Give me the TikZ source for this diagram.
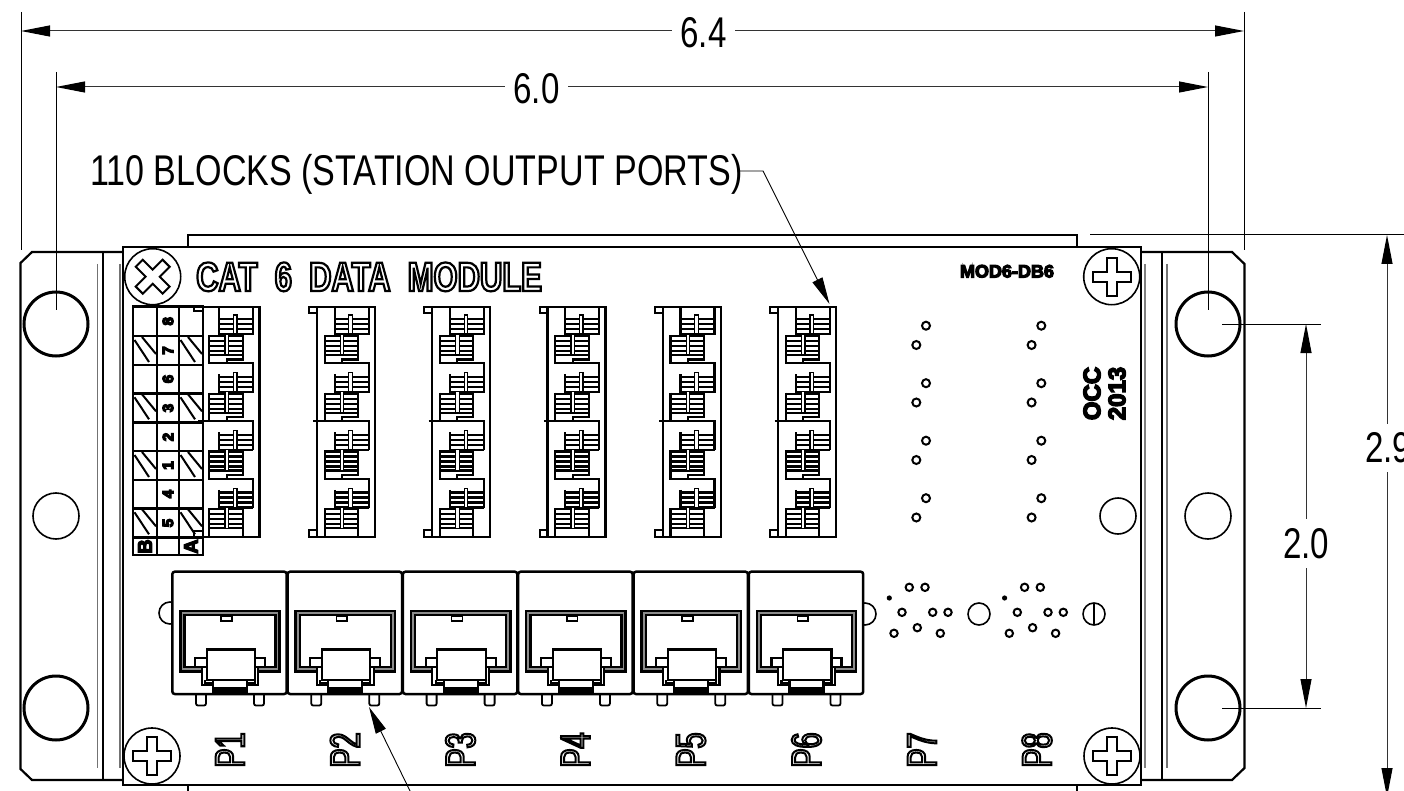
\documentclass[tikz,border=0pt]{standalone}
\usepackage{fontspec}
\usetikzlibrary{arrows.meta,calc}
\setmainfont{Liberation Sans}
\newfontfamily\dimfont[FakeStretch=0.77]{Liberation Sans}
\newfontfamily\longfont[FakeStretch=0.792]{Liberation Sans}
\newfontfamily\catfont[FakeStretch=0.755]{Liberation Sans Bold}
\newfontfamily\plabfont[FakeStretch=0.68]{Liberation Sans}
\newfontfamily\boldfont{Liberation Sans Bold}
\newcommand{\outltext}[2]{\special{pdf:code 1 Tr #1 w}#2\special{pdf:code 0 Tr 0 w}}
\newcommand{\heavytext}[2]{\special{pdf:code 2 Tr #1 w}#2\special{pdf:code 0 Tr 0 w}}
\tikzset{
  heavy/.style={line width=2.2pt,black},
  mid/.style={line width=2.2pt,black},
  thin line/.style={line width=1pt,black},
  greyline/.style={line width=1.2pt,black!55},
  dimline/.style={line width=1pt,black!80},
  tipstart/.style={dimline,{Triangle[length=29pt,width=11pt,black]}-},
  tipend/.style={dimline,-{Triangle[length=29pt,width=11pt,black]}},
  leader/.style={line width=.9pt,black},
  leadarrow/.style={leader,-{Triangle[length=27pt,width=11pt,black]}},
  dimlabel/.style={inner sep=0pt,font=\dimfont\fontsize{43}{43}\selectfont},
  longlabel/.style={inner sep=0pt,font=\longfont\fontsize{43}{43}\selectfont},
  smallhole/.style={line width=2pt,black},
  screwc/.style={line width=1.6pt,black,fill=white},
  strip/.style={line width=2.9pt,black},
}
\newcommand{\screwcross}[3]{% x y angle
  \draw[screwc] (#1,#2) circle[radius=28];
  \draw[line width=2pt,rotate around={#3:(#1,#2)}]
    ($(#1,#2)+(-5,-19)$) -- ($(#1,#2)+(5,-19)$) -- ($(#1,#2)+(5,-5)$) -- ($(#1,#2)+(19,-5)$)
    -- ($(#1,#2)+(19,5)$) -- ($(#1,#2)+(5,5)$) -- ($(#1,#2)+(5,19)$) -- ($(#1,#2)+(-5,19)$)
    -- ($(#1,#2)+(-5,5)$) -- ($(#1,#2)+(-19,5)$) -- ($(#1,#2)+(-19,-5)$) -- ($(#1,#2)+(-5,-5)$) -- cycle;
}
\begin{document}
\begin{tikzpicture}[x=1pt,y=-1pt,line join=miter]
\useasboundingbox (0,0) rectangle (1404,791);
\fill[white] (0,0) rectangle (1404,791);

% ---- brackets
\draw[heavy] (123,252) -- (32,252) -- (20.5,263) -- (20.5,769) -- (32,780) -- (123,780);
\draw[heavy] (1141,252) -- (1232,252) -- (1244.5,264) -- (1244.5,768) -- (1232,780) -- (1141,780);
\draw[heavy] (103,252) -- (103,780);
\draw[heavy] (1162,252) -- (1162,780);
\draw[greyline] (97.5,264) -- (97.5,768);
\draw[greyline] (120,264) -- (120,768);
\draw[greyline] (1167,264) -- (1167,768);
\draw[line width=2.4pt,black!50] (1145,264) -- (1145,768);
% bracket holes
\foreach \hx in {56,1208}{
  \foreach \hy in {324,708}{
    \draw[line width=3pt] (\hx,\hy) ellipse[x radius=32,y radius=32];
  }
  \draw[line width=1.6pt] (\hx,516) circle[radius=23];
}

% ---- rails and board
\draw[heavy] (188,247) -- (188,235) -- (1077,235) -- (1077,247);
\draw[heavy] (188,785) -- (188,795);
\draw[heavy] (1077,785) -- (1077,795);
\draw[heavy,fill=white] (123,247) rectangle (1141,785);

% board circles
\draw[line width=1.6pt] (170,613) circle[radius=11];
\draw[line width=1.6pt] (865,614) circle[radius=11];
\draw[line width=1.6pt] (979,614) circle[radius=11];
\draw[line width=1.6pt] (1094,614) circle[radius=11];
\draw[line width=1.6pt] (1094,603) -- (1094,625);
\draw[line width=1.6pt] (1118,516) circle[radius=18];

% ---- screws
\screwcross{152.7}{276.7}{45}
\screwcross{1111.7}{276.7}{0}
\screwcross{152}{756}{0}
\screwcross{1112}{756}{0}

% ---- terminal strip
\draw[strip] (133,306.7) rectangle (203,555);
\draw[strip] (157,306.7) -- (157,555);
\draw[strip] (179,306.7) -- (179,555);
\foreach \ry in {336,365,393.3,422.7,451,480,508.3,537.3}{
  \draw[strip] (133,\ry) -- (203,\ry);
}
\foreach \ry in {336,393.3,451,508.3}{
  \foreach \cx in {134,180}{
    \draw[line width=2pt] (\cx+0.5,\ry+4) -- (\cx+15,\ry+26);
    \draw[line width=2pt] (\cx+8,\ry+1) -- (\cx+22,\ry+18);
  }
}
\draw[line width=1.6pt] (194,307) -- (194,311) -- (202,311);
\draw[line width=1.6pt] (194,536) -- (194,531) -- (202,531);
\foreach \lab/\ly/\nm in {8/321.3/a,7/350.5/b,6/379/c,3/408/d,2/437/e,1/465.5/f,4/494/g,5/523/h}{
  \node[inner sep=0pt,rotate=90,font=\boldfont\fontsize{15}{15}\selectfont] (strip\nm) at (168,\ly) {\heavytext{1.3}{\lab}};
}
\node[inner sep=0pt,rotate=90,font=\boldfont\fontsize{20}{20}\selectfont] (stripB) at (145,546.5) {\heavytext{1.2}{B}};
\node[inner sep=0pt,rotate=90,font=\boldfont\fontsize{20}{20}\selectfont] (stripA) at (191,546.5) {\heavytext{1.2}{A}};

% ---- 110 blocks
\foreach \k in {0,...,5}{
\begin{scope}[shift={(\k*115.3,0)}]
  \draw[mid] (201.5,306.7) -- (259.5,306.7) -- (259.5,536.7) -- (201.5,536.7);
  \ifnum\k>0
    \draw[mid] (201.5,306.7) -- (201.5,536.7);
    \draw[mid] (201.5,306.7) -- (193.7,306.7) -- (193.7,313) -- (201.5,313);
    \draw[mid] (201.5,536.7) -- (193.7,536.7) -- (193.7,530) -- (201.5,530);
  \fi
  \draw[mid] (198,420.7) -- (209.3,420.7);
  \draw[mid] (219.3,306.7) -- (219.3,316.7);
  \draw[mid] (253.3,306.7) -- (253.3,316.7);
  \foreach \j in {0,...,3}{
    \begin{scope}[shift={(0,\j*57.7)}]
      % upper comb
      \draw[mid] (219.3,316.7) -- (219.3,335);
      \draw[mid] (253.3,316.7) -- (253.3,335);
      \foreach \hy in {319.3,324.3,329.3,334.3}{\draw[mid] (219.3,\hy) -- (253.3,\hy);}
      \draw[line width=1.2pt,fill=white] (233.5,315) rectangle (237,334);
      % lower comb
      \draw[mid] (209.3,335) -- (209.3,355) -- (242.7,355) -- (242.7,335);
      \foreach \hy in {336,341,346,351}{\draw[mid] (209.3,\hy) -- (242.7,\hy);}
      \draw[line width=1.2pt,fill=white] (225,334) rectangle (228.5,355);
    \end{scope}
    \ifnum\j<3
      \begin{scope}[shift={(0,\j*57.7)}]
        \draw[mid] (209.3,355) -- (209.3,363.3) -- (226.7,363.3) -- (226.7,359.5) -- (242.7,359.5) -- (242.7,355);
        \draw[mid] (226.7,363.3) -- (253.3,363.3) -- (253.3,374.4);
      \end{scope}
    \fi
  }
  \draw[mid] (209.3,528) -- (209.3,536.7);
  \draw[mid] (242.7,528) -- (242.7,536.7);
\end{scope}
}

% ---- ports
\foreach \k in {0,...,5}{
\begin{scope}[shift={(\k*115.3,0)}]
  \draw[line width=2.5pt,fill=white,rounded corners=2.5pt] (172.3,571.7) rectangle (286.7,694);
  \fill[black!45,even odd rule] (180.3,611) rectangle (279.7,671.7) (184.5,615.3) rectangle (275.5,667.2);
  \draw[line width=2.5pt] (180.3,611) rectangle (279.7,671.7);
  \draw[line width=2.2pt] (184.5,615.3) rectangle (275.5,667.2);
  \draw[line width=1.6pt] (221,616) rectangle (231.7,621);
  % latch
  \draw[mid,fill=white] (201.7,668) -- (201.7,685) -- (258.3,685) -- (258.3,668);
  \draw[mid,fill=white] (195,658) rectangle (206.7,667);
  \draw[mid,fill=white] (255,658) rectangle (265,667);
  \draw[mid,fill=white] (206.7,649.5) rectangle (255,680);
  \draw[mid] (205,680) -- (205,683) -- (255,683) -- (255,680);
  \draw[mid,fill=white] (213,680) rectangle (247,691.5);
  \fill (212,687) rectangle (248,693);
  % pins
  \draw[line width=1.8pt,rounded corners=2pt] (196,694) -- (196,705.5) -- (206,705.5) -- (206,694);
  \draw[line width=1.8pt,rounded corners=2pt] (254,694) -- (254,705.5) -- (264,705.5) -- (264,694);
\end{scope}
}

% ---- PCB holes
\foreach \cx in {0,115.3}{
  \foreach \hy in {0,57.5,115,172.5}{
    \draw[smallhole] (926+\cx,325.7+\hy) circle[radius=4];
    \draw[smallhole] (916.3+\cx,345+\hy) circle[radius=4];
  }
  \foreach \px/\py in {909.3/587.3,925/587.3,902/612.3,932.7/612.3,948/612.3,894/633.3,917.3/627.7,940.3/633.3}{
    \draw[smallhole] (\px+\cx,\py) circle[radius=3.7];
  }
  \fill (889.3+\cx,598) circle[radius=2.6];
}

% ---- board text
\node[inner sep=0pt,anchor=base west,font=\catfont\fontsize{41}{41}\selectfont] (title) at (196,291) {\outltext{2.2}{CAT\hspace{.42em}6\hspace{.42em}DATA\hspace{.42em}MODULE}};
\node[inner sep=0pt,font=\boldfont\fontsize{18}{18}\selectfont] (model) at (1007,271.3) {\heavytext{1.1}{MOD6-DB6}};
\node[inner sep=0pt,rotate=90,font=\boldfont\fontsize{24}{24}\selectfont] (occ) at (1092,393.5) {\heavytext{1.4}{OCC}};
\node[inner sep=0pt,rotate=90,font=\boldfont\fontsize{24}{24}\selectfont] (year) at (1117,393.5) {\heavytext{1.4}{2013}};
\foreach \lab/\lx in {P1/230,P2/345,P3/460.5,P4/575.5,P5/691,P6/806.5,P7/922,P8/1037}{
  \node[inner sep=0pt,rotate=90,font=\plabfont\fontsize{42}{42}\selectfont] (lab\lab) at (\lx,750) {\outltext{2}{\lab}};
}

% ---- dimensions
\coordinate (d64a) at (21,31);
\coordinate (d64b) at (1244,31);
\coordinate (d60a) at (56,87);
\coordinate (d60b) at (1208,87);
\coordinate (d20a) at (1306,324);
\coordinate (d20b) at (1306,708);
\coordinate (d29a) at (1387,235);
\coordinate (d29b) at (1387,797);
\draw[thin line] (21,12) -- (21,250);
\draw[thin line] (1244,12) -- (1244,250);
\draw[thin line] (56,72) -- (56,310);
\draw[thin line] (1208,72) -- (1208,310);
\draw[thin line] (1090,235) -- (1404,235);
\draw[thin line] (1222,324) -- (1321,324);
\draw[thin line] (1222,708) -- (1321,708);

\node[dimlabel] (l64) at (703.5,33) {6.4};
\node[dimlabel] (l60) at (536.5,89) {6.0};
\node[dimlabel] (l20) at (1306,544) {2.0};
\node[dimlabel] (l29) at (1388,448) {2.9};
\draw[tipstart] (d64a) -- (672,31);
\draw[tipend] (735,31) -- (d64b);
\draw[tipstart] (d60a) -- (505,87);
\draw[tipend] (568,87) -- (d60b);
\draw[tipstart] (d20a) -- (1306,519);
\draw[tipend] (1306,568) -- (d20b);
\draw[tipstart] (d29a) -- (1387,423.5);
\draw[tipend] (1387,472) -- (d29b);

% ---- leaders
\node[longlabel,anchor=base west] (blocks) at (90,186) {110 BLOCKS (STATION OUTPUT PORTS)};
\coordinate (t1) at (829.5,304);
\coordinate (k1) at (763,171);
\coordinate (s1) at (737,171);
\draw[leadarrow] (s1) -- (k1) -- (t1);
\coordinate (t2) at (369,707);
\coordinate (s2) at (412,795);
\draw[leadarrow] (s2) -- (t2);
\end{tikzpicture}
\end{document}
